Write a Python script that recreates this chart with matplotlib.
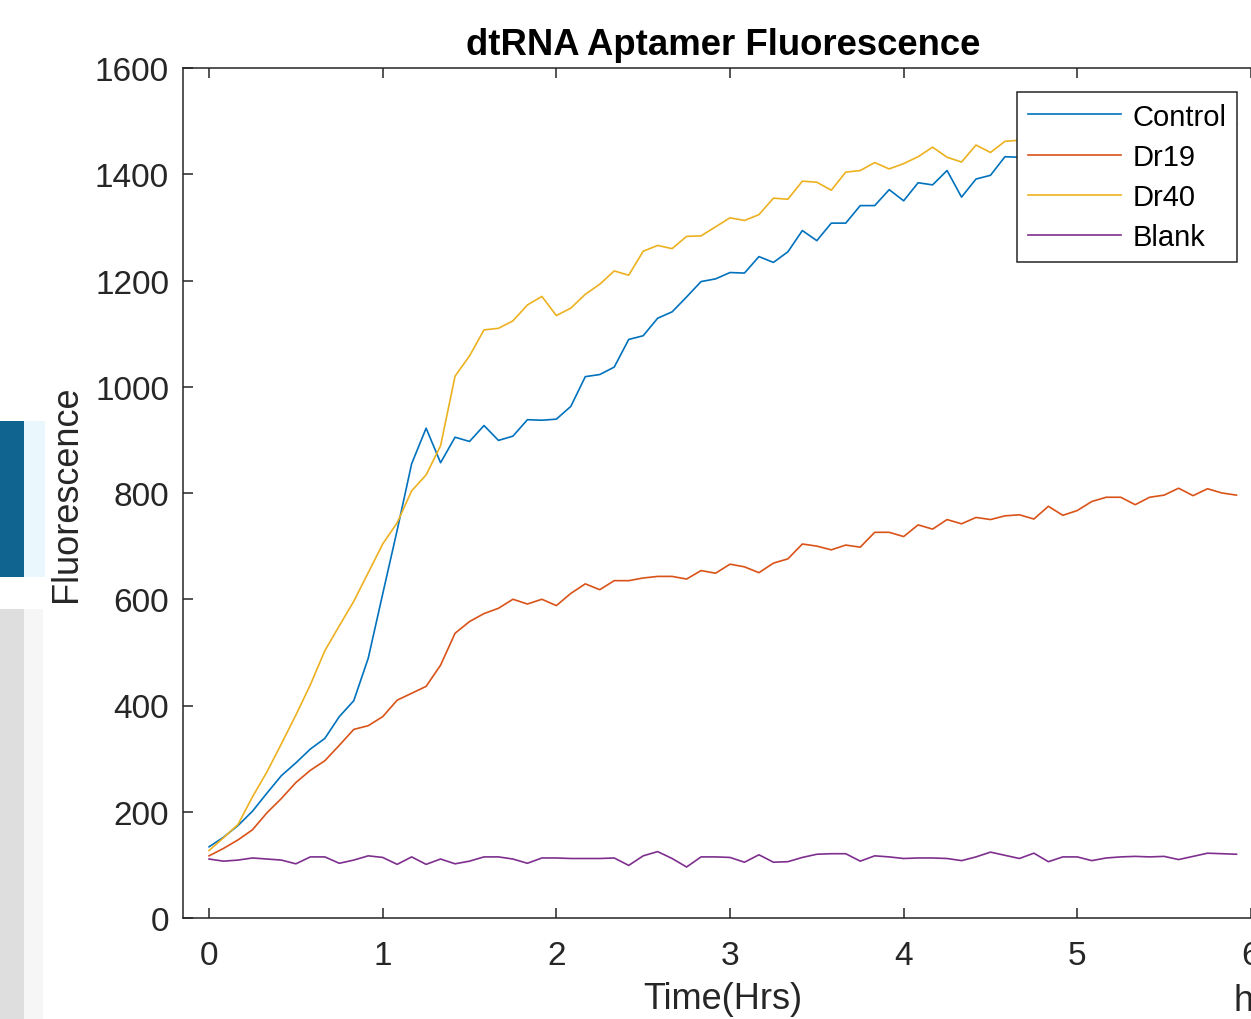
import numpy as np
import matplotlib
matplotlib.use('Agg')
import matplotlib.pyplot as plt
from matplotlib.patches import Rectangle

plt.rcParams['font.family'] = ['Liberation Sans', 'DejaVu Sans']

# readings every 5 minutes, 0 .. 5.917 h
time_h = np.arange(72) * 5 / 60

control = [134, 152, 174, 201, 235, 268, 292, 318, 338, 379,
           409, 489, 610, 730, 855, 922, 857, 905, 897, 927,
           899, 907, 938, 937, 939, 963, 1019, 1023, 1037, 1089,
           1096, 1129, 1141, 1169, 1198, 1203, 1215, 1214, 1245, 1234,
           1254, 1294, 1275, 1308, 1308, 1341, 1341, 1371, 1350, 1384,
           1380, 1407, 1357, 1391, 1398, 1433, 1432, 1440, 1428, 1452,
           1446, 1460, 1455, 1470, 1462, 1478, 1474, 1485, 1480, 1492,
           1488, 1495]
dr19 = [117, 131, 147, 166, 198, 225, 255, 278, 296, 325,
        355, 362, 379, 410, 423, 436, 476, 536, 558, 573,
        583, 600, 591, 600, 588, 611, 629, 618, 635, 635,
        640, 643, 643, 638, 654, 649, 666, 661, 650, 668,
        676, 704, 700, 693, 702, 698, 726, 726, 718, 740,
        732, 750, 742, 754, 750, 757, 759, 751, 775, 758,
        767, 784, 792, 792, 778, 792, 796, 809, 795, 808,
        800, 796]
dr40 = [127, 151, 176, 228, 275, 328, 382, 439, 503, 550,
        596, 650, 704, 744, 804, 834, 889, 1020, 1058, 1107,
        1110, 1124, 1154, 1170, 1134, 1148, 1174, 1193, 1218, 1210,
        1255, 1266, 1260, 1283, 1284, 1301, 1318, 1313, 1324, 1355,
        1353, 1387, 1385, 1370, 1404, 1407, 1422, 1410, 1420, 1433,
        1451, 1432, 1423, 1455, 1441, 1462, 1464, 1468, 1472, 1470,
        1480, 1484, 1478, 1490, 1495, 1492, 1500, 1505, 1503, 1510,
        1512, 1515]
blank = [111, 107, 109, 113, 111, 109, 102, 115, 115, 103,
         109, 117, 114, 101, 115, 101, 111, 102, 107, 115,
         115, 111, 103, 113, 113, 112, 112, 112, 113, 99,
         117, 125, 112, 96, 115, 115, 114, 105, 119, 105,
         106, 114, 120, 121, 121, 107, 117, 115, 112, 113,
         113, 112, 108, 115, 124, 118, 112, 122, 106, 115,
         115, 108, 113, 115, 116, 115, 116, 110, 116, 122,
         121, 120]

series = [control, dr19, dr40, blank]
names = ['Control', 'Dr19', 'Dr40', 'Blank']
colors = ['#0072BD', '#D95319', '#EDB120', '#7E2F8E']

W, H = 1251, 1020
fig = plt.figure(figsize=(W / 100, H / 100), dpi=100)

# screenshot leftovers at the left edge
fig.add_artist(Rectangle((0, 1 - 578 / H), 45 / W, 156 / H, transform=fig.transFigure,
                         color='#eaf8fd', lw=0, zorder=0))
fig.add_artist(Rectangle((0, 1 - 578 / H), 24 / W, 156 / H, transform=fig.transFigure,
                         color='#0f6590', lw=0, zorder=1))
fig.add_artist(Rectangle((0, 0), 43 / W, 410 / H, transform=fig.transFigure,
                         color='#f6f6f6', lw=0, zorder=0))
fig.add_artist(Rectangle((0, 0), 24 / W, 410 / H, transform=fig.transFigure,
                         color='#dedede', lw=0, zorder=1))

ax = fig.add_axes([183 / W, 101 / H, (1277 - 183) / W, (919 - 69) / H])

for y, name, c in zip(series, names, colors):
    ax.plot(time_h, y, color=c, lw=1.2, label=name)

ax.set_xlim(-0.15, 6.15)
ax.set_ylim(0, 1600)
ax.set_xticks(range(0, 7))
ax.set_yticks(range(0, 1601, 200))

axcol = '#262626'
for s in ax.spines.values():
    s.set_color(axcol)
    s.set_linewidth(1.1)
ax.tick_params(direction='in', length=7, width=1.1, colors=axcol,
               labelsize=24, top=True, right=True)
ax.tick_params(axis='x', pad=16)
ax.tick_params(axis='y', pad=10)

mid = (723 - 183) / 1094  # visible centre of the cropped axes
ax.set_title('dtRNA Aptamer Fluorescence', fontsize=26.3, fontweight='bold',
             pad=10, x=mid)
ax.set_xlabel('Time(Hrs)', fontsize=26, color=axcol)
ax.xaxis.set_label_coords(mid, -(1000 - 919) / 850)
ax.xaxis.label.set_va('center')
ax.set_ylabel('Fluorescence', fontsize=26, color=axcol, labelpad=8)

leg = ax.legend(loc='upper right', bbox_to_anchor=(1237 / W, 1 - 93 / H),
                bbox_transform=fig.transFigure, borderaxespad=0,
                fontsize=21, handlelength=3.2, handletextpad=0.4,
                labelspacing=0.42, borderpad=0.36, fancybox=False,
                framealpha=1, edgecolor=axcol)
leg.get_frame().set_linewidth(1.1)

fig.text(1233 / W, 1 - 1011 / H, 'h', fontsize=26, color=axcol,
         ha='left', va='baseline')

fig.savefig('out.png', dpi=100)
